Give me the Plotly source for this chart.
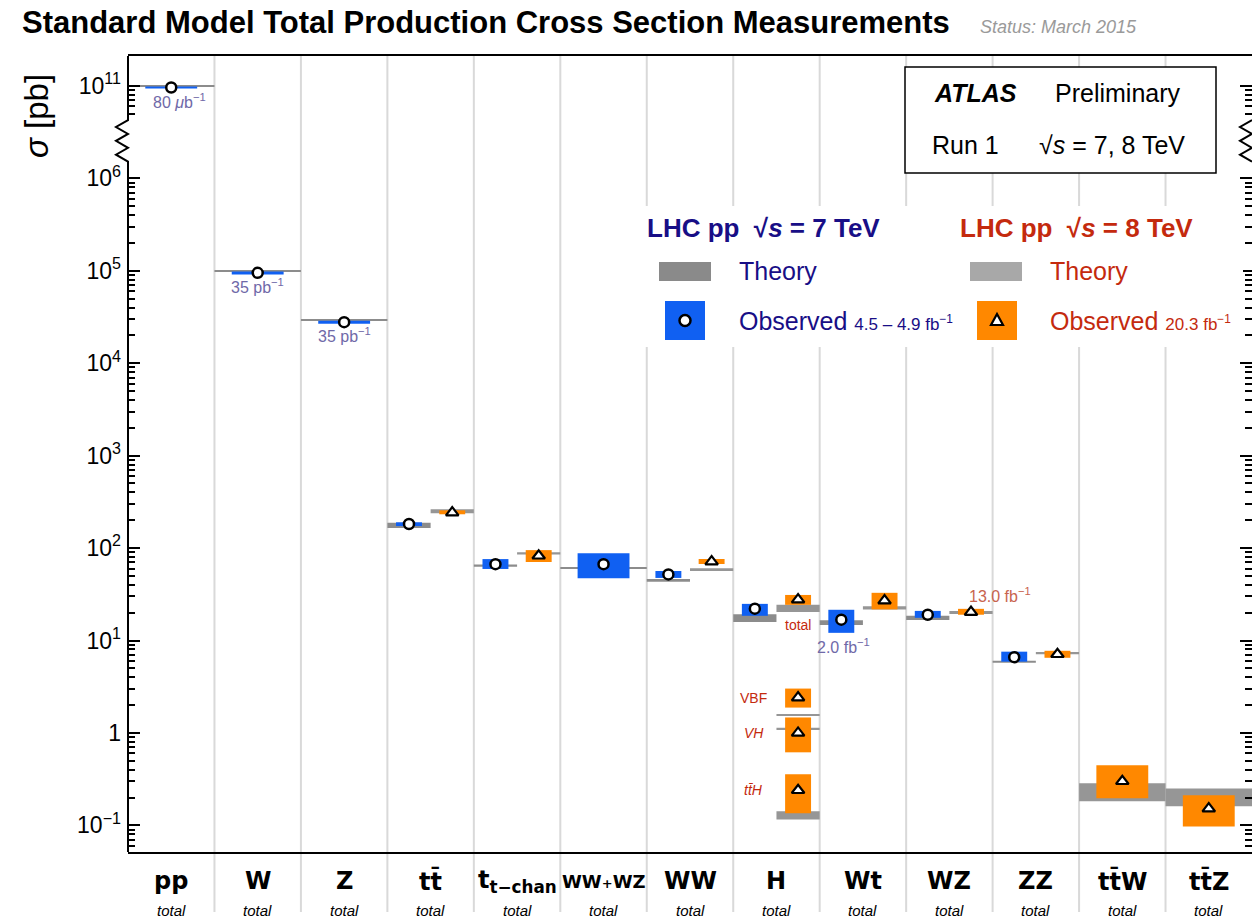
import math
import plotly.graph_objects as go

# ---------------- data (cross sections in pb) ----------------
categories = ["pp", "W", "Z", "tt̄", "t<sub>t−chan</sub>",
              "WW<span style='font-size:13px'>+</span>WZ",
              "WW", "H", "Wt", "WZ", "ZZ", "tt̄W", "tt̄Z"]
sublabels = ["total"] * 13

# sqrt(s) = 7 TeV
obs7 = [9.6e10, 9.5e4, 2.78e4, 182, 67, 67, 51.9, 22.1, 16.8, 19.0, 6.6, None, None]
obs7_lo = [9.35e10, 9.1e4, 2.67e4, 173, 59.4, 47, 47.5, 18.5, 12.1, 17.6, 5.9, None, None]
obs7_hi = [9.85e10, 9.8e4, 2.87e4, 190, 76, 88, 56.5, 24.9, 21.5, 20.9, 7.57, None, None]
th7 = [1.0e11, 9.9e4, 2.9e4, 177, 64.6, 61, 44.7, 17.5, 15.6, 17.6, 5.9, None, None]
th7_lo = [0.985e11, 9.75e4, 2.86e4, 165, 62.8, 59.5, 43.2, 15.9, 14.7, 16.7, 5.75, None, None]
th7_hi = [1.015e11, 10.05e4, 2.94e4, 188, 66.4, 62.5, 46.2, 19.2, 16.6, 18.5, 6.05, None, None]

# sqrt(s) = 8 TeV
obs8 = [None, None, None, 242, 82.6, None, 71.4, 27.7, 27.0, 20.3, 7.1, 0.30, 0.152]
obs8_lo = [None, None, None, 232, 70.6, None, 67.2, 24.3, 21.7, 19.0, 6.5, 0.197, 0.097]
obs8_hi = [None, None, None, 256, 95, None, 76.2, 31.1, 32.8, 22.0, 7.74, 0.447, 0.212]
th8 = [None, None, None, 252, 87.8, None, 58.3, 22.3, 22.5, 20.3, 7.3, 0.232, 0.200]
th8_lo = [None, None, None, 238, 85.4, None, 56.3, 20.4, 21.6, 19.8, 7.1, 0.182, 0.161]
th8_hi = [None, None, None, 263, 90.2, None, 60.3, 24.3, 23.4, 20.8, 7.5, 0.285, 0.251]

# Higgs production channels at 8 TeV
h_chan = ["VBF", "<i>VH</i>", "<i>tt̄H</i>"]
h_obs = [2.41, 1.0, 0.24]
h_obs_lo = [1.88, 0.617, 0.135]
h_obs_hi = [3.02, 1.47, 0.357]
h_th = [1.58, 1.12, 0.129]
h_th_lo = [1.555, 1.10, 0.116]
h_th_hi = [1.605, 1.14, 0.1425]
H_COL = categories.index("H")

# integrated luminosity notes: (text, column, energy, yshift, x offset)
lumi_notes = [("80 <i>μ</i>b<sup>−1</sup>", 0, 7, -13, 0.1),
              ("35 pb<sup>−1</sup>", 1, 7, -13, 0.0),
              ("35 pb<sup>−1</sup>", 2, 7, -13, 0.0),
              ("2.0 fb<sup>−1</sup>", 8, 7, -26, 0.02),
              ("13.0 fb<sup>−1</sup>", 9, 8, 17, 0.33)]

# ---------------- layout geometry ----------------
W, H = 1252, 918
L, T, B = 128, 56, 66
PW, PH = W - L, H - T - B
Y_MIN, Y_MAX = -1.288, 7.323
NCOL = len(categories)

BLUE = "#1060f2"
ORANGE = "#ff8800"
GREY7 = "#8c8c8c"
GREY8 = "#969696"
NAVY = "#180e86"
RED = "#c42a0e"
LUMI = "#6f69a8"
SALMON = "#c8644e"
SANS = "Liberation Sans"


def ty(v):
    """log10 axis with the 1e6 .. 1e11 stretch folded into one decade"""
    lv = math.log10(v)
    return lv - 4 if lv > 8 else lv


def px(x):
    return (x - L) / PW


def py(y):
    return (H - B - y) / PH


def pyv(t):
    return (t - Y_MIN) / (Y_MAX - Y_MIN)


fig = go.Figure()

single = [(a is None) != (b is None) for a, b in zip(obs7, obs8)]


def positions(energy):
    out = []
    for i in range(NCOL):
        if single[i]:
            out.append((i + 0.5, 1.0, 0.6))
        else:
            off = 0.25 if energy == 7 else 0.75
            out.append((i + off, 0.5, 0.3))
    return out


def add_boxes(xs, widths, lo, hi, color):
    xx, base, hh, ww = [], [], [], []
    for x, w, a, b in zip(xs, widths, lo, hi):
        if a is None:
            continue
        xx.append(x)
        base.append(ty(a))
        hh.append(ty(b) - ty(a))
        ww.append(w)
    fig.add_trace(go.Bar(x=xx, y=hh, base=base, width=ww,
                         marker=dict(color=color, line=dict(width=0)),
                         hoverinfo="skip", showlegend=False))


pos7 = positions(7)
pos8 = positions(8)
x7 = [p[0] for p in pos7]
x8 = [p[0] for p in pos8]

# theory bands
add_boxes(x7, [p[1] for p in pos7], th7_lo, th7_hi, GREY7)
add_boxes(x8, [p[1] for p in pos8], th8_lo, th8_hi, GREY8)
hx = [H_COL + 0.75] * len(h_chan)
add_boxes(hx, [0.5] * len(h_chan), h_th_lo, h_th_hi, GREY8)

# measurements
add_boxes(x7, [p[2] for p in pos7], obs7_lo, obs7_hi, BLUE)
add_boxes(x8, [p[2] for p in pos8], obs8_lo, obs8_hi, ORANGE)
add_boxes(hx, [0.3] * len(h_chan), h_obs_lo, h_obs_hi, ORANGE)

m7x = [x for x, v in zip(x7, obs7) if v is not None]
m7y = [ty(v) for v in obs7 if v is not None]
m8x = [x for x, v in zip(x8, obs8) if v is not None] + hx
m8y = [ty(v) for v in obs8 if v is not None] + [ty(v) for v in h_obs]

fig.add_trace(go.Scatter(x=m7x, y=m7y, mode="markers", hoverinfo="skip", showlegend=False,
                         marker=dict(symbol="circle", size=10, color="white",
                                     line=dict(color="black", width=2.5))))
fig.add_trace(go.Scatter(x=m8x, y=m8y, mode="markers", hoverinfo="skip", showlegend=False,
                         marker=dict(symbol="triangle-up", size=11, color="white",
                                     line=dict(color="black", width=2.2))))

# ---------------- shapes ----------------
shapes = []
# column separators, continuing down through the label row
for i in range(1, NCOL):
    shapes.append(dict(type="line", xref="paper", yref="paper", x0=i / NCOL, x1=i / NCOL,
                       y0=py(912), y1=1, layer="below",
                       line=dict(color="#d9d9d9", width=2)))

# broken y axis line with zigzag
amp = 12 / PW
zz = [6.63, 6.555, 6.48, 6.405, 6.33, 6.255, 6.18]
path = f"M 0,{pyv(Y_MAX)} L 0,{pyv(zz[0])}"
for k, t in enumerate(zz[1:], 1):
    xk = -amp if k % 2 else 0
    path += f" L {xk},{pyv(t)}"
path += f" L 0,{pyv(Y_MIN)}"
shapes.append(dict(type="path", xref="paper", yref="paper", path=path,
                   line=dict(color="black", width=2), layer="above"))
rpath = f"M 1,{pyv(zz[0])}"
for k, t in enumerate(zz[1:], 1):
    xk = 1 - amp if k % 2 else 1
    rpath += f" L {xk},{pyv(t)}"
shapes.append(dict(type="path", xref="paper", yref="paper", path=rpath,
                   line=dict(color="black", width=2), layer="above"))

# ATLAS label box
shapes.append(dict(type="rect", xref="paper", yref="paper", x0=px(905), x1=px(1216),
                   y0=py(173), y1=py(67), line=dict(color="black", width=1.5),
                   fillcolor="white", layer="above"))
# key background
shapes.append(dict(type="rect", xref="paper", yref="paper", x0=px(640), x1=px(1243),
                   y0=py(347), y1=py(206), line=dict(width=0),
                   fillcolor="white", layer="above"))
# key swatches
for (x0, x1, y0, y1, c) in [(659, 711, 262, 281, "#8a8a8a"), (665, 705, 301, 340, BLUE),
                            (970, 1022, 262, 281, "#a8a8a8"), (977, 1017, 301, 340, ORANGE)]:
    shapes.append(dict(type="rect", xref="paper", yref="paper", x0=px(x0), x1=px(x1),
                       y0=py(y1), y1=py(y0), line=dict(width=0), fillcolor=c, layer="above"))
shapes.append(dict(type="circle", xref="paper", yref="paper", xsizemode="pixel", ysizemode="pixel",
                   xanchor=px(685), yanchor=py(320.5), x0=-5.5, x1=5.5, y0=-5.5, y1=5.5,
                   fillcolor="white", line=dict(color="black", width=2.5), layer="above"))
shapes.append(dict(type="path", xref="paper", yref="paper", xsizemode="pixel", ysizemode="pixel",
                   xanchor=px(997), yanchor=py(320.5), path="M 0,6.5 L 6,-4.5 L -6,-4.5 Z",
                   fillcolor="white", line=dict(color="black", width=2.2), layer="above"))

# ---------------- text ----------------
anns = []


def label(text, x, y, size, color="black", xanchor="center", family=SANS, **kw):
    anns.append(dict(text=text, x=px(x), y=py(y), xref="paper", yref="paper",
                     xanchor=xanchor, yanchor="middle", showarrow=False,
                     font=dict(size=size, color=color, family=family), **kw))


label("<b>Standard Model Total Production Cross Section Measurements</b>", 20, 22, 31,
      xanchor="left")
label("<i>Status: March 2015</i>", 978, 27, 18, color="#9a9a9a", xanchor="left")
label("<i>σ</i> [pb]", 36, 116, 33, textangle=-90)

label("<b><i>ATLAS</i></b>", 975, 93, 25)
label("Preliminary", 1118, 93, 25)
label("Run 1", 965, 145, 25)
label("√<i>s</i> = 7, 8 TeV", 1112, 145, 25)

label("<b>LHC pp  √<i>s</i> = 7 TeV</b>", 645, 228, 26, color=NAVY, xanchor="left")
label("<b>LHC pp  √<i>s</i> = 8 TeV</b>", 958, 228, 26, color=RED, xanchor="left")
label("Theory", 737, 271, 25, color=NAVY, xanchor="left")
label("Theory", 1048, 271, 25, color=RED, xanchor="left")
label("Observed <span style='font-size:17px'>4.5 – 4.9 fb<sup>−1</sup></span>", 737, 321, 25,
      color=NAVY, xanchor="left")
label("Observed <span style='font-size:17px'>20.3 fb<sup>−1</sup></span>", 1048, 321, 25,
      color=RED, xanchor="left")

for i, (cat, sub) in enumerate(zip(categories, sublabels)):
    size = 18 if "+" in cat else 24
    anns.append(dict(text=f"<b>{cat}</b>", x=i + 0.5, y=py(881), xref="x", yref="paper",
                     showarrow=False, yanchor="middle",
                     font=dict(size=size, color="black", family="DejaVu Sans")))
    anns.append(dict(text=f"<i>{sub}</i>", x=i + 0.5, y=py(910), xref="x", yref="paper",
                     showarrow=False, yanchor="middle",
                     font=dict(size=15, color="black", family=SANS)))

for text, col, energy, shift, dx in lumi_notes:
    if energy == 7:
        xv, v = x7[col], obs7[col]
        colr = LUMI
    else:
        xv, v = x8[col], obs8[col]
        colr = SALMON
    anns.append(dict(text=text, x=xv + dx, y=ty(v), xref="x", yref="y", yshift=shift,
                     showarrow=False, font=dict(size=16, color=colr, family=SANS)))

anns.append(dict(text="total", x=H_COL + 0.75, y=ty(obs8[H_COL]), xref="x", yref="y",
                 yshift=-25, showarrow=False, font=dict(size=14, color=RED, family=SANS)))
for name, v in zip(h_chan, h_obs):
    anns.append(dict(text=name, x=H_COL + 0.24, y=ty(v), xref="x", yref="y",
                     showarrow=False, font=dict(size=14, color=RED, family=SANS)))

# ---------------- axes ----------------
major_vals = [-1, 0, 1, 2, 3, 4, 5, 6, ty(1e11)]
major_text = ["10<sup>−1</sup>", "1", "10<sup>1</sup>", "10<sup>2</sup>", "10<sup>3</sup>",
              "10<sup>4</sup>", "10<sup>5</sup>", "10<sup>6</sup>", "10<sup>11</sup>"]
minor_vals = []
for d in range(-2, 6):
    for k in range(2, 10):
        t = d + math.log10(k)
        if Y_MIN < t < 6:
            minor_vals.append(t)
for k in range(5, 10):
    minor_vals.append(ty(k * 1e10))

fig.update_layout(
    width=W, height=H,
    margin=dict(l=L, r=0, t=T, b=B, pad=0),
    paper_bgcolor="white", plot_bgcolor="rgba(0,0,0,0)",
    barmode="overlay", showlegend=False,
    shapes=shapes, annotations=anns,
    font=dict(family=SANS, color="black"),
    xaxis=dict(range=[0, NCOL], showgrid=False, zeroline=False, showticklabels=False,
               ticks="", showline=True, linecolor="black", linewidth=2, mirror=True,
               fixedrange=True),
    yaxis=dict(range=[Y_MIN, Y_MAX], showgrid=False, zeroline=False, showline=False,
               tickmode="array", tickvals=major_vals, ticktext=major_text,
               ticks="inside", ticklen=12, tickwidth=2, tickcolor="black", mirror="ticks",
               ticklabelstandoff=6,
               tickfont=dict(size=23, family=SANS, color="black"),
               minor=dict(tickmode="array", tickvals=minor_vals, ticks="inside",
                          ticklen=7, tickwidth=1.5, tickcolor="black"),
               fixedrange=True),
)

fig.write_html("out.html", config={"displayModeBar": False})
